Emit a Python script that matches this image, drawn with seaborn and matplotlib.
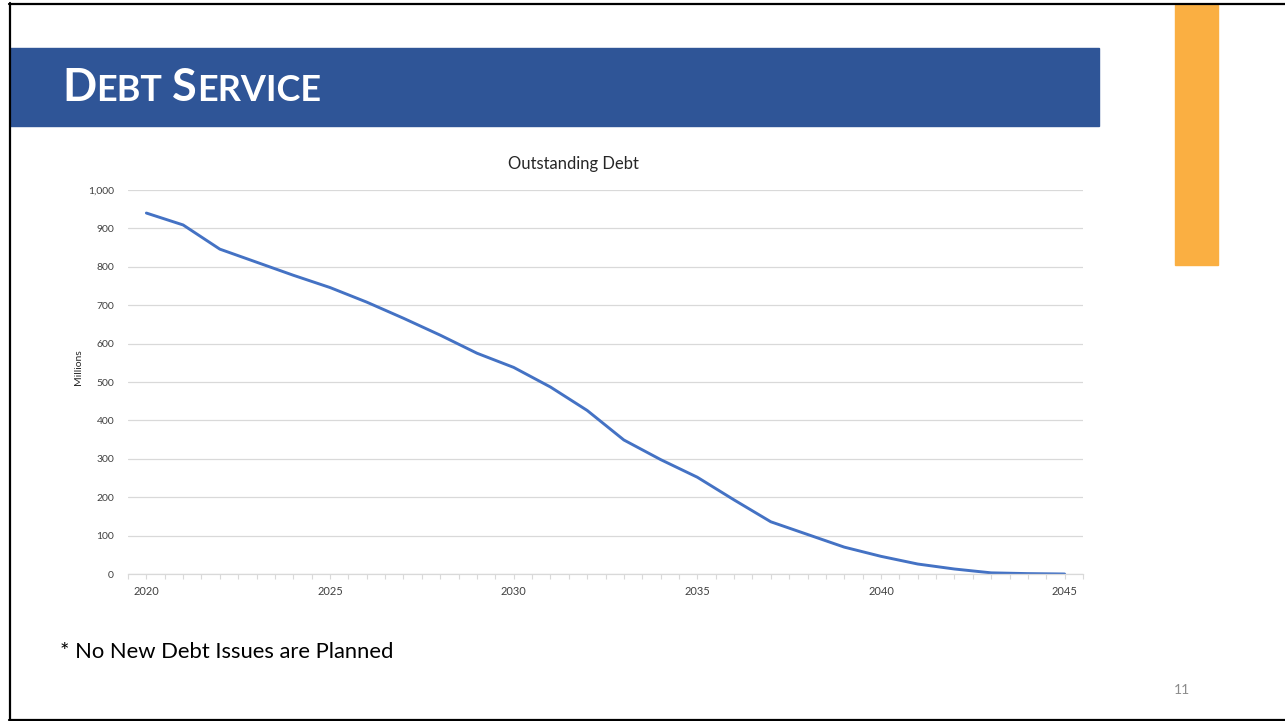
"""
Outstanding debt slide - line chart with slide decorations
"""

import numpy as np
import pandas as pd
import matplotlib
matplotlib.use("Agg")
import matplotlib.pyplot as plt
from matplotlib.patches import Rectangle
from matplotlib.lines import Line2D
from matplotlib.ticker import MultipleLocator, FuncFormatter
import seaborn as sns

# Data (millions)
years = list(range(2020, 2046))
debt = [940, 909, 846, 812, 778, 746, 708, 666, 622, 575, 538, 487, 426,
        349, 298, 252, 193, 136, 103, 70, 46, 26, 13, 3, 1, 0]
y_ticks = [0, 100, 200, 300, 400, 500, 600, 700, 800, 900, 1000]
x_ticks = [2020, 2025, 2030, 2035, 2040, 2045]

df = pd.DataFrame({"Year": years, "Debt": debt})

sns.set_theme(style="white")
plt.rcParams['font.family'] = ['Lato', 'DejaVu Sans']

W, H = 1285, 721
fig = plt.figure(figsize=(W / 100, H / 100), dpi=100)
fig.patch.set_facecolor('white')


def fx(px):
    return px / W


def fy(py):
    return 1 - py / H


# Slide decorations
fig.patches.append(Rectangle((fx(10), fy(126)), fx(1099) - fx(10), fy(48) - fy(126),
                             transform=fig.transFigure, color='#2F5597', zorder=0))
fig.patches.append(Rectangle((fx(1175), fy(265)), fx(1218) - fx(1175), fy(5) - fy(265),
                             transform=fig.transFigure, color='#FAAF42', zorder=0))
for xs, ys in [([9.5, 9.5], [3, 719.5]), ([9, 1285], [3.5, 3.5]), ([9, 1285], [719.5, 719.5])]:
    fig.lines.append(Line2D([fx(v) for v in xs], [fy(v) for v in ys],
                            transform=fig.transFigure, color='black', lw=1.6))

# Small-caps title "Debt Service"
renderer = fig.canvas.get_renderer()
x = 62
for piece, px_size in [("D", 45), ("EBT", 36), (None, 10), ("S", 45), ("ERVICE", 36)]:
    if piece is None:
        x += px_size
        continue
    t = fig.text(fx(x), fy(101), piece, fontsize=px_size * 0.72, fontweight='bold',
                 color='white', va='baseline', ha='left')
    x += t.get_window_extent(renderer).width

# Chart
ax = fig.add_axes([fx(128), fy(574), fx(1083) - fx(128), fy(190) - fy(574)])
sns.lineplot(data=df, x="Year", y="Debt", ax=ax, color='#4472C4', linewidth=2.1)

ax.set_xlim(2019.5, 2045.5)
ax.set_ylim(0, 1000)
ax.set_yticks(y_ticks)
ax.yaxis.set_major_formatter(FuncFormatter(lambda v, p: f"{int(v):,}"))
ax.set_xticks(x_ticks)
ax.xaxis.set_minor_locator(MultipleLocator(0.5))
ax.yaxis.grid(True, color='#d9d9d9', lw=0.9)
ax.set_axisbelow(True)
for side in ['top', 'right', 'left']:
    ax.spines[side].set_visible(False)
ax.spines['bottom'].set_color('#d9d9d9')
ax.spines['bottom'].set_linewidth(0.9)
ax.tick_params(axis='y', length=0, pad=10, labelsize=7.5, labelcolor='#404040')
ax.tick_params(axis='x', which='both', direction='out', length=3.5, width=0.8,
               color='#d9d9d9', bottom=True, labelsize=8, labelcolor='#404040', pad=5)
ax.set_xlabel('')
ax.set_ylabel('')

fig.text(fx(573), fy(164), "Outstanding Debt", fontsize=12, color='#262626',
         ha='center', va='center')
fig.text(fx(78), fy(367), "Millions", fontsize=7.5, color='#262626',
         rotation=90, ha='center', va='center')

fig.text(fx(60), fy(658), "* No New Debt Issues are Planned", fontsize=15.8,
         color='black', ha='left', va='baseline')
fig.text(fx(1182), fy(690), "11", fontsize=10, color='#8c8c8c', ha='center', va='center')

plt.savefig('out.png', dpi=100)
